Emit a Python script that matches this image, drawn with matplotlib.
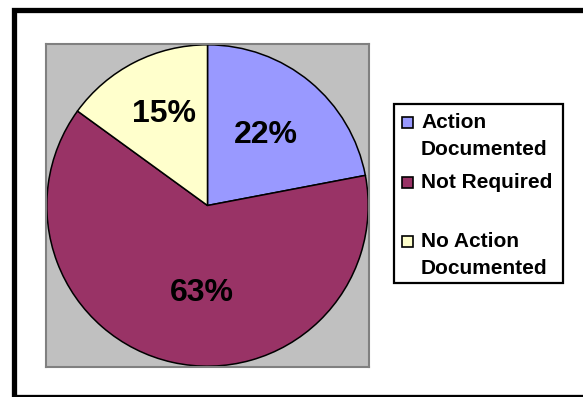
import matplotlib
matplotlib.use("Agg")
import matplotlib.pyplot as plt
from matplotlib.patches import Rectangle
import numpy as np

categories = ["Action\nDocumented", "Not Required", "No Action\nDocumented"]
values = [22, 63, 15]
colors = ["#9999FF", "#993366", "#FFFFCC"]

# label placement (radial distance, angular shift in degrees from slice middle)
label_dist = [0.588, 0.523, 0.650]
label_shift = [1.1, 8.5, -2.2]

plt.rcParams['font.family'] = ['Liberation Sans', 'DejaVu Sans']

W, H = 583, 397
fig = plt.figure(figsize=(W / 100, H / 100), dpi=100)
fig.patch.set_facecolor("white")

def fx(px):
    return px / W

def fy(py):
    return 1 - py / H

# pie plot area (gray square)
ax = fig.add_axes([fx(46), fy(367), (369 - 46) / W, (367 - 44) / H])
wedges, _ = ax.pie(values, colors=colors, startangle=90, counterclock=False,
                   radius=1.0, wedgeprops=dict(edgecolor="black", linewidth=1.1))
ax.set_frame_on(True)
ax.set_facecolor("#C0C0C0")
for s in ax.spines.values():
    s.set_visible(True)
    s.set_color("#808080")
    s.set_linewidth(1.5)
ax.set_xticks([])
ax.set_yticks([])

total = sum(values)
for w, v, d, sh in zip(wedges, values, label_dist, label_shift):
    ang = np.deg2rad((w.theta1 + w.theta2) / 2 + sh)
    ax.text(d * np.cos(ang), d * np.sin(ang), f"{round(100 * v / total)}%",
            ha="center", va="center_baseline", fontsize=23, fontweight="bold",
            color="black")
ax.set_xlim(-1.005, 1.005)
ax.set_ylim(-1.005, 1.005)
ax.set_aspect("auto")

# outer frame
fig.add_artist(Rectangle((fx(13.5), fy(396.5)), fx(600) - fx(13.5), fy(9.5) - fy(396.5),
                         transform=fig.transFigure, fill=False, edgecolor="black",
                         linewidth=3.8, clip_on=False))

# legend box
fig.add_artist(Rectangle((fx(394), fy(283)), fx(563) - fx(394), fy(104) - fy(283),
                         transform=fig.transFigure, facecolor="white", edgecolor="black",
                         linewidth=1.6))
step = 59.5
for i, (lab, c) in enumerate(zip(categories, colors)):
    top = 117 + i * step
    fig.add_artist(Rectangle((fx(402), fy(top + 11)), fx(413) - fx(402), fy(top) - fy(top + 11),
                             transform=fig.transFigure, facecolor=c, edgecolor="black",
                             linewidth=1.2))
    for j, line in enumerate(lab.split("\n")):
        fig.text(fx(421), fy(128 + i * step + j * 27), line, ha="left", va="baseline",
                 fontsize=15, fontweight="bold")

fig.savefig("out.png", dpi=100)
